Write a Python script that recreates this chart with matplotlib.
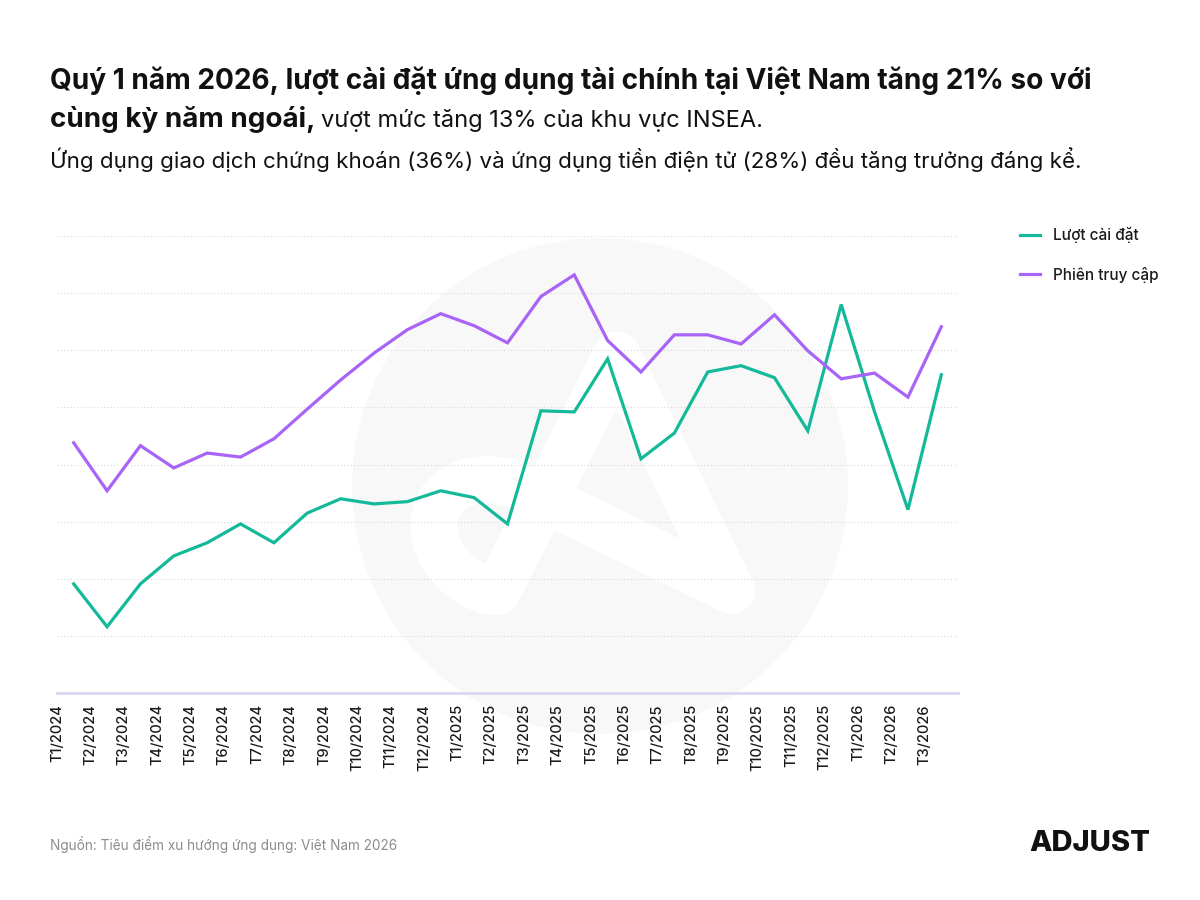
import numpy as np
import matplotlib
matplotlib.use('Agg')
import matplotlib.pyplot as plt
from matplotlib.patches import Circle, PathPatch
from matplotlib.path import Path

plt.rcParams['font.family'] = ['Inter', 'DejaVu Sans']

# data (arbitrary units)
months = ['T1/2024', 'T2/2024', 'T3/2024', 'T4/2024', 'T5/2024', 'T6/2024',
          'T7/2024', 'T8/2024', 'T9/2024', 'T10/2024', 'T11/2024', 'T12/2024',
          'T1/2025', 'T2/2025', 'T3/2025', 'T4/2025', 'T5/2025', 'T6/2025',
          'T7/2025', 'T8/2025', 'T9/2025', 'T10/2025', 'T11/2025', 'T12/2025',
          'T1/2026', 'T2/2026', 'T3/2026']
installs = [1.91, 1.16, 1.91, 2.40, 2.63, 2.96, 2.63, 3.15, 3.40, 3.31,
            3.35, 3.54, 3.42, 2.96, 4.94, 4.92, 5.85, 4.10, 4.55, 5.62,
            5.73, 5.52, 4.59, 6.80, 4.92, 3.21, 5.57]
sessions = [4.38, 3.54, 4.33, 3.94, 4.20, 4.13, 4.45, 4.97, 5.48, 5.95,
            6.36, 6.64, 6.43, 6.13, 6.94, 7.32, 6.17, 5.62, 6.27, 6.27,
            6.11, 6.62, 5.99, 5.50, 5.60, 5.18, 6.41]

green = '#13b999'
purple = '#a863f7'

fig = plt.figure(figsize=(12, 9), dpi=100)

# watermark in pixel coordinates
bg = fig.add_axes([0, 0, 1, 1], zorder=0)
bg.set_xlim(0, 1200)
bg.set_ylim(900, 0)
bg.axis('off')
bg.add_patch(Circle((600, 486), 248, color='#f8f8f8', lw=0))
verts = [(731, 590), (520, 487),
         (490, 472), (440, 478), (434, 520),
         (430, 555), (465, 590), (497, 592),
         (617, 355), (731, 590)]
codes = [Path.MOVETO, Path.LINETO,
         Path.CURVE4, Path.CURVE4, Path.CURVE4,
         Path.CURVE4, Path.CURVE4, Path.CURVE4,
         Path.LINETO, Path.LINETO]
bg.add_patch(PathPatch(Path(verts, codes), facecolor='none', edgecolor='white',
                       lw=34, capstyle='round', joinstyle='round'))

# main chart
ax = fig.add_axes([57 / 1200, 1 - 693 / 900, 901 / 1200, 457 / 900], zorder=1)
ax.set_facecolor('none')
x = np.arange(len(months)) + 0.5
ax.plot(x, installs, color=green, lw=2.3, label='Lượt cài đặt', solid_joinstyle='miter')
ax.plot(x, sessions, color=purple, lw=2.3, label='Phiên truy cập', solid_joinstyle='miter')

ax.set_xlim(0, 27)
ax.set_ylim(0, 8)
for yv in range(1, 9):
    ax.axhline(yv, color='#d9d9d9', lw=0.8, ls=(0, (1, 2)), zorder=0)

for s in ['top', 'right', 'left']:
    ax.spines[s].set_visible(False)
ax.spines['bottom'].set_color('#d8d8f0')
ax.spines['bottom'].set_linewidth(2)
ax.set_yticks([])

ax.set_xticks(np.arange(len(months)))
ax.set_xticklabels(months, rotation=90, fontsize=10.5, color='#1a1a1a', fontweight='medium')
ax.tick_params(axis='x', which='major', length=0, pad=8)
ax.set_xticks(np.arange(0, len(months), 2), minor=True)
ax.tick_params(axis='x', which='minor', length=5, width=1.2, color='#d8d8f0')

leg = ax.legend(loc='upper left', bbox_to_anchor=(1006 / 1200, 1 - 213 / 900),
                bbox_transform=fig.transFigure, frameon=False, handlelength=1.3,
                handletextpad=0.85, labelspacing=1.55, fontsize=11)
for t in leg.get_texts():
    t.set_fontweight('medium')
    t.set_color('#1a1a1a')

# titles
fig.text(50 / 1200, 1 - 89 / 900,
         'Quý 1 năm 2026, lượt cài đặt ứng dụng tài chính tại Việt Nam tăng 21% so với',
         fontsize=20.2, fontweight='bold', color='#111111', va='baseline')
t2 = fig.text(50 / 1200, 1 - 127 / 900, 'cùng kỳ năm ngoái,',
              fontsize=20, fontweight='bold', color='#111111', va='baseline')
fig.canvas.draw()
ext = t2.get_window_extent()
fig.text((ext.x1 + 6) / 1200, 1 - 127 / 900, 'vượt mức tăng 13% của khu vực INSEA.',
         fontsize=17, color='#111111', va='baseline')
fig.text(50 / 1200, 1 - 168 / 900,
         'Ứng dụng giao dịch chứng khoán (36%) và ứng dụng tiền điện tử (28%) đều tăng trưởng đáng kể.',
         fontsize=16.1, color='#111111', va='baseline')

# footer
fig.text(50 / 1200, 1 - 850 / 900, 'Nguồn: Tiêu điểm xu hướng ứng dụng: Việt Nam 2026',
         fontsize=9.8, color='#8c8c8c', va='baseline')
fig.text(1150 / 1200, 1 - 851 / 900, 'ADJUST', fontsize=21, fontweight='heavy',
         color='#111111', ha='right', va='baseline')

fig.savefig('out.png', dpi=100, facecolor='white')
